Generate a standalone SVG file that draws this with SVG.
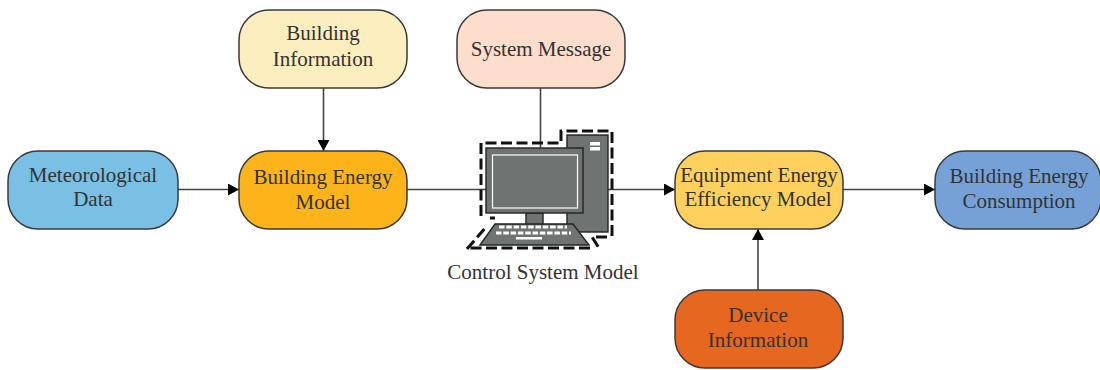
<svg xmlns="http://www.w3.org/2000/svg" width="1100" height="370" viewBox="0 0 1100 370">
<style>
.n{stroke:#3a3a3a;stroke-width:1.5}
.t{font-family:"Liberation Serif","Times New Roman",serif;font-size:21px;fill:#333;text-anchor:middle}
.c{fill:none;stroke:#444;stroke-width:1.6}
.g{fill:#6f7372;stroke:#222;stroke-width:1.4}
.k{fill:#fff;stroke:none}
.d{fill:none;stroke:#111;stroke-width:3;stroke-dasharray:11 4.500}
</style>
<defs><marker id="a" markerUnits="userSpaceOnUse" markerWidth="12" markerHeight="12" refX="11" refY="6" orient="auto"><path d="M0,0L11,6L0,12z" fill="#000"/></marker></defs>
<g id="connectors">
<path class="c" d="M178,189.500H239" marker-end="url(#a)"/>
<path class="c" d="M323.500,88V151" marker-end="url(#a)"/>
<path class="c" d="M407,189.500H486"/>
<path class="c" d="M540.500,88V148"/>
<path class="c" d="M608,189.500H675" marker-end="url(#a)"/>
<path class="c" d="M843,189.500H935" marker-end="url(#a)"/>
<path class="c" d="M758,290V229" marker-end="url(#a)"/>
</g>
<g id="meteorological-data"><rect class="n" x="8" y="151" width="170" height="78" rx="30" fill="#7abfe4"/><text class="t" x="93" y="182">Meteorological</text><text class="t" x="93" y="206">Data</text></g>
<g id="building-information"><rect class="n" x="239" y="10" width="168" height="78" rx="30" fill="#fdeec0"/><text class="t" x="323" y="40">Building</text><text class="t" x="323" y="66">Information</text></g>
<g id="building-energy-model"><rect class="n" x="239" y="151" width="168" height="78" rx="30" fill="#fdb31a"/><text class="t" x="323" y="184">Building Energy</text><text class="t" x="323" y="209">Model</text></g>
<g id="system-message"><rect class="n" x="457" y="10" width="168" height="78" rx="30" fill="#fdddcb"/><text class="t" x="541" y="56">System Message</text></g>
<g id="control-system-model">
<rect class="g" x="567" y="135" width="41" height="97"/>
<rect class="k" x="590" y="142" width="10" height="3.500"/><rect class="k" x="590" y="147" width="10" height="3.500"/>
<rect class="g" x="526" y="213" width="17" height="12"/>
<rect class="g" x="486" y="148" width="97" height="65"/>
<rect x="492.500" y="155" width="85" height="53" fill="none" stroke="#fff" stroke-width="1.200"/>
<path class="g" d="M495,224H573L589,245H480z"/>
<path d="M499,227H567M496,233H571" stroke="#fff" stroke-width="3" stroke-dasharray="5.500 1.800" fill="none"/>
<rect class="k" x="516" y="237" width="26" height="2.500"/>
<path class="d" d="M481,216V143H561V131H612V237"/>
<path class="d" d="M607,237H592L599,248"/>
<path class="d" d="M590,248H470"/>
<path class="d" d="M467,249L486,227"/>
<path class="d" d="M490,218H495"/>
<text class="t" x="543" y="279">Control System Model</text></g>
<g id="equipment-energy-efficiency-model"><rect class="n" x="675" y="151" width="168" height="78" rx="30" fill="#fed15e"/><text class="t" x="759" y="182">Equipment Energy</text><text class="t" x="758" y="206">Efficiency Model</text></g>
<g id="building-energy-consumption"><rect class="n" x="935" y="151" width="166" height="78" rx="30" fill="#75a1d6"/><text class="t" x="1019" y="183">Building Energy</text><text class="t" x="1019" y="208">Consumption</text></g>
<g id="device-information"><rect class="n" x="675" y="290" width="168" height="78" rx="30" fill="#e6671f"/><text class="t" x="758" y="322">Device</text><text class="t" x="758" y="347">Information</text></g>
</svg>
